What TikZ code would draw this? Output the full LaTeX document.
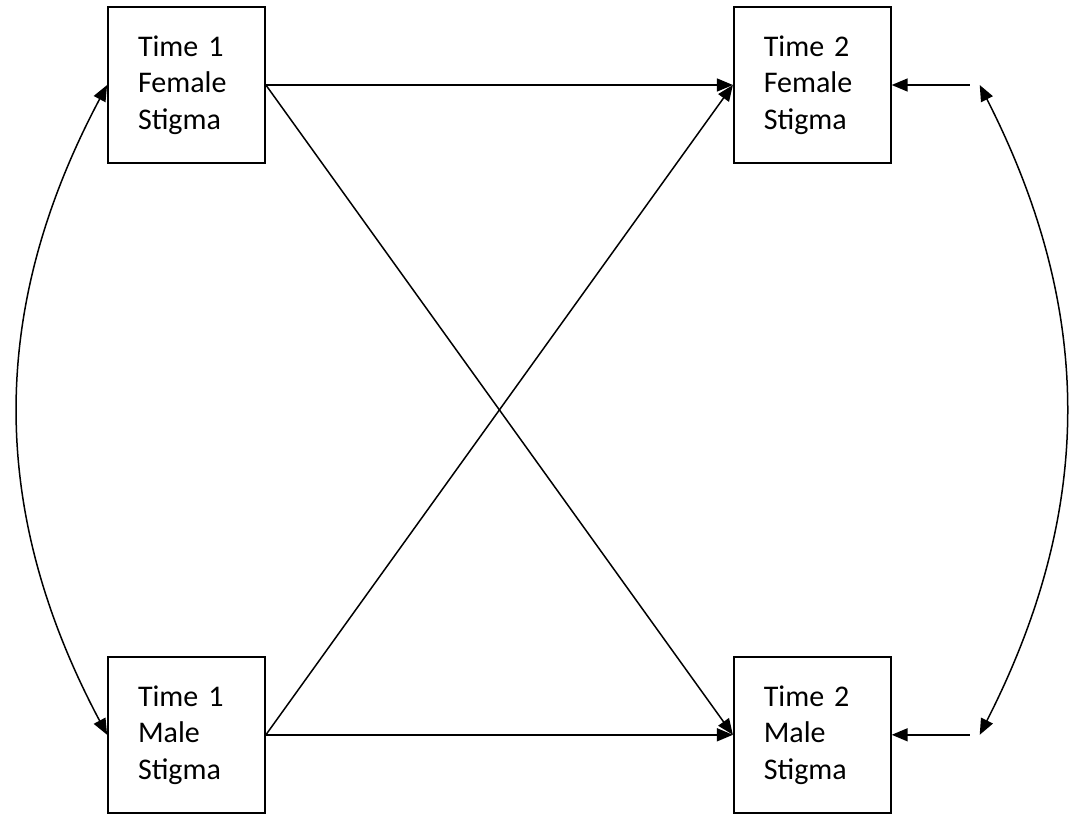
\documentclass[tikz,border=0pt]{standalone}
\usepackage{fontspec}
\setmainfont{Carlito}
\usepackage{tikz}
\usetikzlibrary{arrows.meta,positioning}

\begin{document}
\begin{tikzpicture}[x=1pt,y=-1pt,
  node distance=492pt and 467pt,
  box/.style={draw,line width=1.8pt,minimum width=157pt,minimum height=156pt,text width=97pt,align=left,inner sep=0pt,font=\fontsize{30}{36.5}\selectfont},
  arr/.style={-{Triangle[length=16pt,width=13pt]},line width=1.5pt},
  dbl/.style={{Triangle[length=16pt,width=13pt]}-{Triangle[length=16pt,width=13pt]},line width=1.5pt}]
  \useasboundingbox (0,0) rectangle (1074,814);
  \node[box] (t1f) at (186.5,85) {Time 1\\Female\\Stigma};
  \node[box,right=of t1f] (t2f) {Time 2\\Female\\Stigma};
  \node[box,below=of t1f] (t1m) {Time 1\\Male\\Stigma};
  \node[box,below=of t2f] (t2m) {Time 2\\Male\\Stigma};
  \coordinate (ef) at ([xshift=78pt]t2f.east);
  \coordinate (em) at ([xshift=78pt]t2m.east);
  \draw[arr] (t1f.east)--(t2f.west); \draw[arr] (t1m.east)--(t2m.west);
  \draw[arr] (t1f.east)--(t2m.west); \draw[arr] (t1m.east)--(t2f.west);
  \draw[arr] (ef)--(t2f.east); \draw[arr] (em)--(t2m.east);
  \draw[dbl] (t1f.west) to[bend right=28] (t1m.west);
  \draw[dbl] ([xshift=10pt]ef) to[bend left=27] ([xshift=10pt]em);
\end{tikzpicture}
\end{document}
